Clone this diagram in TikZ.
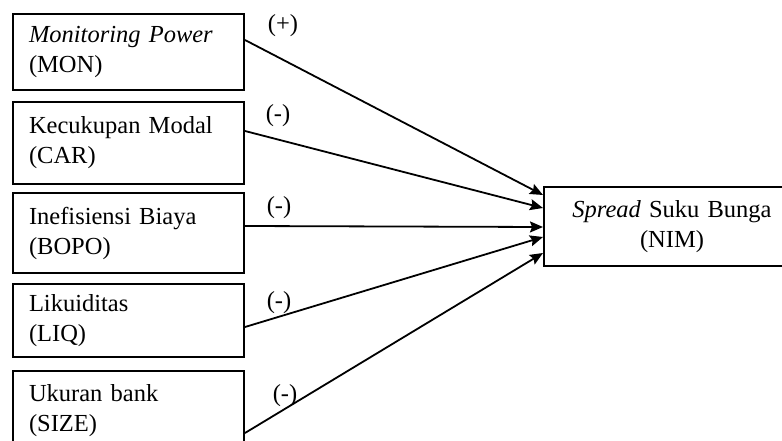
\documentclass[tikz,border=0pt]{standalone}
\usepackage{fontspec}
\setmainfont{Liberation Serif}
\usepackage{tikz}
\usetikzlibrary{arrows.meta}

\begin{document}
\begin{tikzpicture}[x=1pt, y=-1pt, line width=1.8pt,
    varbox/.style={draw, line width=2pt, anchor=north west, minimum width=231,
      text width=199, inner xsep=16, align=left,
      font=\fontsize{24.5}{30}\selectfont},
    sign/.style={font=\fontsize{24.5}{30}\selectfont, inner sep=0},
    path/.style={-{Stealth[length=13pt, width=11pt, inset=2pt]}}]
    \useasboundingbox (0, 0) rectangle (782, 441);
    \clip (0, 0) rectangle (782, 441);

    % draw independent variables
    \node[varbox, minimum height=76] (mon)  at (12, 13)  {\textit{Monitoring Power}\\(MON)};
    \node[varbox, minimum height=82] (car)  at (12, 101) {Kecukupan Modal\\(CAR)};
    \node[varbox, minimum height=80] (bopo) at (12, 192) {Inefisiensi Biaya\\(BOPO)};
    \node[varbox, minimum height=73] (liq)  at (12, 283) {Likuiditas\\(LIQ)};
    \node[varbox, minimum height=80] (size) at (12, 370) {Ukuran bank\\(SIZE)};

    % draw dependent variable
    \node[varbox, minimum width=256, minimum height=79, text width=224, align=center]
      (nim) at (543, 186) {\textit{Spread} Suku Bunga\\(NIM)};

    % draw paths
    \draw[path] ([yshift=-27pt]mon.north east)  -- ([yshift=-9pt]nim.north west);
    \draw[path] ([yshift=-30pt]car.north east)  -- ([yshift=-22pt]nim.north west);
    \draw[path] ([yshift=-34pt]bopo.north east) -- ([yshift=-41pt]nim.north west);
    \draw[path] ([yshift=-44pt]liq.north east)  -- ([yshift=-51pt]nim.north west);
    \draw[path] ([yshift=-63pt]size.north east) -- ([yshift=-67pt]nim.north west);

    % draw signs
    \node[sign] (smon)  at (283, 26)  {(+)};
    \node[sign] (scar)  at (278, 116) {(-)};
    \node[sign] (sbopo) at (279, 208) {(-)};
    \node[sign] (sliq)  at (279, 303) {(-)};
    \node[sign] (ssize) at (285, 396) {(-)};

\end{tikzpicture}
\end{document}
